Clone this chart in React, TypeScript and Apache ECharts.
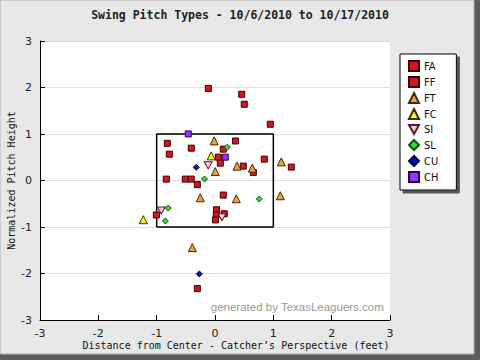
import { useEffect, useRef } from "react";
import * as echarts from "echarts";

// Pitch locations: [horizontal distance (ft), normalized height]
const FA: [number, number][] = [];
const FF: [number, number][] = [
  [-0.115, 1.98], [0.458, 1.854], [0.502, 1.64], [0.948, 1.21],
  [-0.818, 0.8], [0.351, 0.85], [-0.406, 0.695], [0.142, 0.674],
  [-0.783, 0.566], [0.057, 0.502], [0.845, 0.459], [0.091, 0.373],
  [0.485, 0.309], [0.657, 0.172], [1.308, 0.288], [-0.835, 0.03],
  [-0.509, 0.03], [-0.406, 0.03], [-0.303, -0.088], [0.142, -0.313],
  [-1.006, -0.742], [0.026, -0.629], [0.022, -0.738], [0.009, -0.848],
  [0.159, -0.715], [-0.303, -2.324],
];
const FT: [number, number][] = [
  [-0.014, 0.852], [1.137, 0.401], [0.377, 0.309], [0.639, 0.266],
  [0.005, 0.193], [-0.252, -0.371], [0.365, -0.393], [1.12, -0.328],
  [-0.389, -1.444],
];
const FC: [number, number][] = [[-0.065, 0.53], [-1.229, -0.843]];
const SI: [number, number][] = [[-0.117, 0.326], [-0.921, -0.644], [0.12, -0.79]];
const SL: [number, number][] = [
  [0.211, 0.717], [-0.18, 0.032], [0.759, -0.399], [-0.801, -0.592], [-0.852, -0.871],
];
const CU: [number, number][] = [[-0.321, 0.283], [-0.269, -2.009]];
const CH: [number, number][] = [[-0.458, 1.002], [0.177, 0.502]];

const STRIKE_ZONE: [number, number][] = [[-1, -1], [1, -1], [1, 1], [-1, 1], [-1, -1]];
const PITCH_TYPES = ["FA", "FF", "FT", "FC", "SI", "SL", "CU", "CH"];

const TITLE = "Swing Pitch Types - 10/6/2010 to 10/17/2010";
const X_NAME = "Distance from Center - Catcher\u2019s Perspective (feet)";
const Y_NAME = "Normalized Pitch Height";
const WATERMARK = "generated by TexasLeaguers.com";

const DOWN_TRIANGLE = "path://M0,0 L10,0 L5,9 Z";

function sc(
  name: string,
  data: [number, number][],
  symbol: string,
  size: number | number[],
  color: string,
  border: string
) {
  return {
    type: "scatter",
    name,
    data,
    symbol,
    symbolSize: size,
    z: 5,
    itemStyle: { color, borderColor: border, borderWidth: 1, opacity: 1 },
  };
}

export default function App() {
  const ref = useRef<HTMLDivElement>(null);
  useEffect(() => {
    const chart = echarts.init(ref.current!, null, { renderer: "svg" });
    chart.setOption({
      animation: false,
      backgroundColor: "#5c5c5c",
      graphic: [
        {
          type: "rect",
          z: -10,
          silent: true,
          shape: { x: 0, y: 0, width: 474, height: 354 },
          style: { fill: "#e8e8e8", stroke: "#b0b0b0", lineWidth: 1 },
        },
        {
          type: "text",
          z: 10,
          right: 96,
          top: 301,
          style: {
            text: WATERMARK,
            fill: "#9a9a9a",
            font: "11.5px 'Liberation Sans', Arial, sans-serif",
          },
        },
      ],
      title: {
        text: TITLE,
        left: "center",
        top: 4,
        textStyle: {
          fontFamily: "'DejaVu Sans Mono', monospace",
          fontWeight: "bold",
          fontSize: 11.5,
          color: "#222",
        },
      },
      grid: {
        left: 40,
        right: 90,
        top: 41,
        bottom: 40,
        outerBoundsMode: "none",
        containLabel: false,
        show: true,
        backgroundColor: "#ffffff",
        borderWidth: 0,
      },
      legend: {
        data: PITCH_TYPES,
        orient: "vertical",
        left: 400,
        top: 54,
        itemWidth: 10,
        itemHeight: 10,
        itemGap: 4,
        padding: [6, 18, 7, 8],
        backgroundColor: "#ffffff",
        borderColor: "#000",
        borderWidth: 1,
        shadowColor: "#555",
        shadowOffsetX: 3,
        shadowOffsetY: 3,
        shadowBlur: 0,
        textStyle: { fontFamily: "'DejaVu Sans Condensed', 'DejaVu Sans', sans-serif", fontSize: 11, color: "#111" },
      },
      xAxis: {
        type: "value",
        min: -3,
        max: 3,
        interval: 1,
        name: X_NAME,
        nameLocation: "middle",
        nameGap: 20,
        nameMoveOverlap: false,
        nameTextStyle: {
          fontFamily: "'DejaVu Sans Mono', monospace",
          fontSize: 10,
          color: "#111",
          padding: [0, 0, 0, 42],
        },
        axisLine: { show: true, onZero: false, lineStyle: { color: "#000", width: 1 } },
        axisTick: { show: true, inside: true, length: 5, lineStyle: { color: "#000" } },
        axisLabel: { margin: 8, fontFamily: "'DejaVu Sans', sans-serif", fontSize: 11, color: "#222" },
        splitLine: { show: false },
      },
      yAxis: {
        type: "value",
        min: -3,
        max: 3,
        interval: 1,
        name: Y_NAME,
        nameLocation: "middle",
        nameGap: 24,
        nameMoveOverlap: false,
        nameTextStyle: {
          fontFamily: "'DejaVu Sans Mono', monospace",
          fontSize: 10,
          color: "#111",
        },
        axisLine: { show: true, onZero: false, lineStyle: { color: "#000", width: 1 } },
        axisTick: { show: true, inside: true, length: 5, lineStyle: { color: "#000" } },
        axisLabel: { margin: 8, fontFamily: "'DejaVu Sans', sans-serif", fontSize: 11, color: "#222" },
        splitLine: { show: true, lineStyle: { color: "#dedede", width: 1 } },
      },
      series: [
        {
          type: "line",
          name: "zone",
          data: STRIKE_ZONE,
          symbol: "none",
          z: 2,
          lineStyle: { color: "#000", width: 1.5 },
          silent: true,
        },
        sc("FA", FA, "rect", 6, "#d8141e", "#3a0000"),
        sc("FF", FF, "rect", 6, "#d8141e", "#3a0000"),
        sc("FT", FT, "triangle", 8, "#e9a43f", "#4a2a00"),
        sc("FC", FC, "triangle", 8, "#ffff10", "#333300"),
        sc("SI", SI, DOWN_TRIANGLE, [8, 7], "#ffc8d0", "#4a2030"),
        sc("SL", SL, "diamond", 6, "#33dd33", "#105510"),
        sc("CU", CU, "diamond", 6, "#1010bb", "#000044"),
        sc("CH", CH, "rect", 6, "#9933ff", "#2a0055"),
      ],
    });
    return () => chart.dispose();
  }, []);
  return (
    <div
      ref={ref}
      style={{ position: "absolute", left: 0, top: 0, width: 480, height: 360 }}
    />
  );
}
